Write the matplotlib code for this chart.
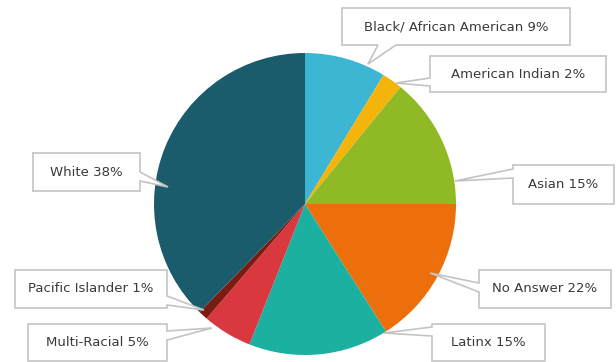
import matplotlib
matplotlib.use("Agg")
import matplotlib.pyplot as plt
from matplotlib.patches import Polygon

# categories, clockwise from 12 o'clock
categories = ["Black/ African American", "American Indian", "Asian", "No Answer",
              "Latinx", "Multi-Racial", "Pacific Islander", "White"]
label_pct = [9, 2, 15, 22, 15, 5, 1, 38]            # percentages printed in labels
slice_share = [8.7, 2.2, 14.1, 16.0, 15.0, 5.3, 1.0, 37.7]  # slice sizes as drawn
colors = ["#3db6d4", "#f5b40a", "#8fba26", "#ec6f0c",
          "#1bb09f", "#d9383f", "#7a1c12", "#1b5c6c"]

W, H = 616, 362
CENTER = (305, 204)   # pixel coords (y from top)
RADIUS = 151

# callout layout: box (x0, y0, x1, y1), side of wedge, wedge base (a, b), anchor
callouts = [
    ((342, 8, 570, 45), "bottom", (378, 396), (368, 64)),
    ((430, 56, 606, 92), "left", (78, 86), (396, 83)),
    ((513, 165, 614, 204), "left", (169, 178), (455, 181)),
    ((479, 270, 611, 308), "left", (283, 292), (430, 273)),
    ((432, 324, 545, 361), "left", (327, 336), (384, 333)),
    ((28, 324, 167, 361), "right", (331, 340), (212, 328)),
    ((15, 270, 167, 308), "right", (296, 305), (204, 310)),
    ((33, 153, 140, 191), "right", (172, 181), (168, 187)),
]


def fy(y):
    return H - y


def callout_path(box, side, base, anchor):
    x0, y0, x1, y1 = box
    a, b = base
    if side == "bottom":
        pts = [(x0, y0), (x1, y0), (x1, y1), (b, y1), anchor, (a, y1), (x0, y1)]
    elif side == "left":
        pts = [(x0, y0), (x1, y0), (x1, y1), (x0, y1), (x0, b), anchor, (x0, a)]
    else:
        pts = [(x0, y0), (x1, y0), (x1, a), anchor, (x1, b), (x1, y1), (x0, y1)]
    return [(x, fy(y)) for x, y in pts]


fig = plt.figure(figsize=(W / 100, H / 100), dpi=100)
ax = fig.add_axes([0, 0, 1, 1])

ax.pie(slice_share, colors=colors, startangle=90, counterclock=False,
       center=(CENTER[0], fy(CENTER[1])), radius=RADIUS, frame=True,
       wedgeprops=dict(linewidth=0))
ax.set_xlim(0, W)
ax.set_ylim(0, H)
ax.set_aspect("equal")
ax.axis("off")

for name, pct, (box, side, base, anchor) in zip(categories, label_pct, callouts):
    poly = Polygon(callout_path(box, side, base, anchor), closed=True,
                   facecolor="white", edgecolor="#c4c4c4", linewidth=1.2, zorder=5)
    ax.add_patch(poly)
    x0, y0, x1, y1 = box
    ax.text((x0 + x1) / 2, fy((y0 + y1) / 2), f"{name} {pct}%", ha="center",
            va="center", fontsize=9.5, color="#3a3a3a", zorder=6)

fig.savefig("out.png", dpi=100)
